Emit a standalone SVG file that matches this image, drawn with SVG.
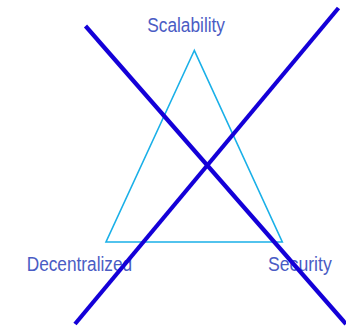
<svg xmlns="http://www.w3.org/2000/svg" width="346" height="326" viewBox="0 0 346 326">
<style>
.lbl{font-family:"Liberation Sans",Arial,sans-serif;font-size:20px;fill:#4a5cc4;}
.tri{fill:none;stroke:#1ab0e8;stroke-width:1.6;stroke-linejoin:miter;}
.x{stroke:#1400d8;stroke-width:4.2;stroke-linecap:butt;}
</style>
<rect width="346" height="326" fill="#ffffff"/>
<g id="triangle">
<polygon class="tri" points="194.3,50.5 106,242 282.3,242"/>
</g>
<g id="scalability"><text class="lbl" x="147.3" y="31.7" textLength="77.7" lengthAdjust="spacingAndGlyphs">Scalability</text></g>
<g id="decentralized"><text class="lbl" x="26.7" y="271.3" textLength="105.5" lengthAdjust="spacingAndGlyphs">Decentralized</text></g>
<g id="security"><text class="lbl" x="268" y="271.3" textLength="63.7" lengthAdjust="spacingAndGlyphs">Security</text></g>
<g id="connectors">
<line class="x" x1="85.5" y1="26" x2="346" y2="324"/>
<line class="x" x1="75" y1="324" x2="338.5" y2="8"/>
</g>
</svg>
